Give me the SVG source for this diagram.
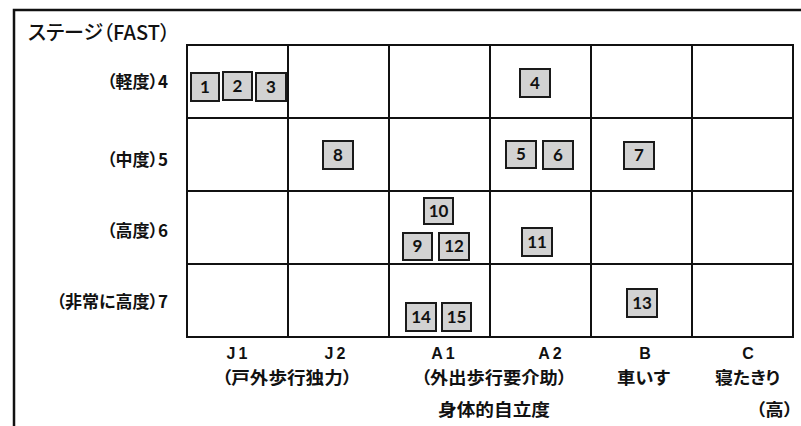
<svg xmlns="http://www.w3.org/2000/svg" width="801" height="426" viewBox="0 0 801 426">
<style>
.jp{font-family:"Noto Sans CJK JP","Noto Sans CJK SC",sans-serif;font-feature-settings:'palt';fill:#111}
.b{font-weight:bold}
.lat{font-family:"Liberation Sans",Arial,sans-serif;font-weight:bold;fill:#111;font-size:16px;letter-spacing:3px;text-anchor:middle}
.box{fill:#d2d2d2;stroke:#1a1a1a;stroke-width:2}
.num{font-family:Lato,"Liberation Sans",sans-serif;font-weight:bold;font-size:17px;fill:#111;text-anchor:middle}
.grid{stroke:#111;stroke-width:2;fill:none}
</style>
<rect width="801" height="426" fill="#fff"/>
<g id="frame">
<path d="M14,426 V10 H801" fill="none" stroke="#111" stroke-width="2.5"/>
</g>
<g id="title">
<text class="jp" x="28" y="40" font-size="20" font-weight="500" textLength="142" lengthAdjust="spacingAndGlyphs">ステージ（FAST）</text>
</g>
<g id="grid" class="grid">
<rect x="187" y="45" width="606" height="292"/>
<path d="M288,45V337M389,45V337M490,45V337M591,45V337M692,45V337M187,118H793M187,191H793M187,264H793"/>
</g>
<g id="row-labels" class="jp b" font-size="17" text-anchor="end">
<text x="168" y="88">（軽度）4</text>
<text x="168" y="166">（中度）5</text>
<text x="168" y="237">（高度）6</text>
<text x="168" y="308">（非常に高度）7</text>
</g>
<g id="col-labels">
<text class="lat" x="238.5" y="359">J1</text>
<text class="lat" x="336.5" y="359">J2</text>
<text class="lat" x="444.5" y="359">A1</text>
<text class="lat" x="551.5" y="359">A2</text>
<text class="lat" x="646.5" y="359">B</text>
<text class="lat" x="749.5" y="359">C</text>
<text class="jp b" x="222" y="384" font-size="17" textLength="130" lengthAdjust="spacingAndGlyphs">（戸外歩行独力）</text>
<text class="jp b" x="421" y="384" font-size="17" textLength="146" lengthAdjust="spacingAndGlyphs">（外出歩行要介助）</text>
<text class="jp b" x="617" y="384" font-size="17" textLength="53" lengthAdjust="spacingAndGlyphs">車いす</text>
<text class="jp b" x="715" y="384" font-size="17" textLength="65" lengthAdjust="spacingAndGlyphs">寝たきり</text>
<text class="jp b" x="438" y="416" font-size="17" textLength="112" lengthAdjust="spacingAndGlyphs">身体的自立度</text>
<text class="jp b" x="756" y="416" font-size="17" textLength="37" lengthAdjust="spacingAndGlyphs">（高）</text>
</g>
<g id="n1"><rect class="box" x="191" y="73" width="28" height="28"/><text class="num" x="205" y="93">1</text></g>
<g id="n2"><rect class="box" x="223" y="72" width="29" height="28"/><text class="num" x="237.5" y="92">2</text></g>
<g id="n3"><rect class="box" x="256" y="73" width="30" height="28"/><text class="num" x="271" y="93">3</text></g>
<g id="n4"><rect class="box" x="520" y="69" width="30" height="28"/><text class="num" x="535" y="89">4</text></g>
<g id="n5"><rect class="box" x="506" y="141" width="30" height="27"/><text class="num" x="521" y="160">5</text></g>
<g id="n6"><rect class="box" x="543" y="141" width="30" height="28"/><text class="num" x="558" y="161">6</text></g>
<g id="n7"><rect class="box" x="624" y="142" width="30" height="27"/><text class="num" x="639" y="161">7</text></g>
<g id="n8"><rect class="box" x="323" y="141" width="30" height="28"/><text class="num" x="338" y="161">8</text></g>
<g id="n9"><rect class="box" x="403" y="233" width="29" height="27"/><text class="num" x="417.5" y="252">9</text></g>
<g id="n10"><rect class="box" x="424" y="198" width="29" height="26"/><text class="num" x="438.5" y="217">10</text></g>
<g id="n11"><rect class="box" x="522" y="228" width="30" height="28"/><text class="num" x="537" y="248">11</text></g>
<g id="n12"><rect class="box" x="439" y="233" width="30" height="27"/><text class="num" x="454" y="252">12</text></g>
<g id="n13"><rect class="box" x="627" y="289" width="30" height="28"/><text class="num" x="642" y="309">13</text></g>
<g id="n14"><rect class="box" x="406" y="303" width="30" height="28"/><text class="num" x="421" y="323">14</text></g>
<g id="n15"><rect class="box" x="442" y="303" width="29" height="28"/><text class="num" x="456.5" y="323">15</text></g>
</svg>
